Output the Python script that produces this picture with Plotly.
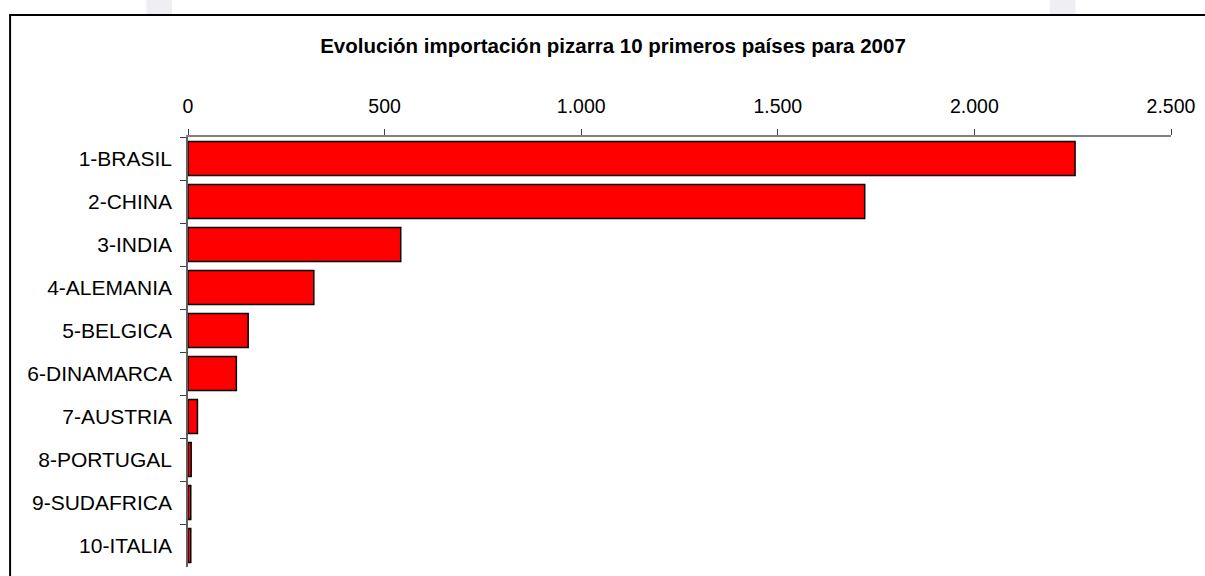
import plotly.graph_objects as go

categories = ["1-BRASIL", "2-CHINA", "3-INDIA", "4-ALEMANIA", "5-BELGICA",
              "6-DINAMARCA", "7-AUSTRIA", "8-PORTUGAL", "9-SUDAFRICA", "10-ITALIA"]
values = [2256, 1721, 541, 320, 153, 123, 24, 8, 7, 7]
tick_vals = [0, 500, 1000, 1500, 2000, 2500]
tick_text = ["0", "500", "1.000", "1.500", "2.000", "2.500"]
title_text = "Evolución importación pizarra 10 primeros países para 2007"

W, H = 1205, 576
L, R, T, B = 188, 28, 137, 9
pw, ph = W - L - R, H - T - B

def px_x(x):
    return (x - L) / pw

def px_y(y):
    return (H - B - y) / ph

fig = go.Figure(go.Bar(
    x=values, y=categories, orientation="h",
    marker=dict(color="#FF0000", line=dict(color="#000000", width=1.5)),
    hoverinfo="x+y",
))

fig.update_layout(
    width=W, height=H,
    margin=dict(l=L, r=R, t=T, b=B, pad=0),
    paper_bgcolor="white", plot_bgcolor="white",
    font=dict(family="Liberation Sans, Arial, sans-serif", color="#000000"),
    bargap=0.21,
    showlegend=False,
    title=dict(text="<b>" + title_text + "</b>", x=613 / W, xref="container",
               y=1 - 46 / H, yref="container", xanchor="center", yanchor="middle",
               font=dict(size=20.5, family="Liberation Sans, Arial, sans-serif", color="#000000")),
    xaxis=dict(side="top", range=[0, 2500], tickvals=tick_vals, ticktext=tick_text,
               showgrid=False, zeroline=False, showline=True, linecolor="#808080", linewidth=1.5,
               ticks="outside", ticklen=6, tickwidth=1.2, tickcolor="#404040",
               tickfont=dict(size=19.5), ticklabelstandoff=8, fixedrange=True),
    yaxis=dict(categoryorder="array", categoryarray=categories, autorange="reversed",
               showgrid=False, zeroline=False, showline=True, linecolor="#606060", linewidth=1.5,
               ticks="outside", ticklen=6, tickwidth=1.2, tickcolor="#404040",
               tickson="boundaries", tickfont=dict(size=21), ticklabelstandoff=10,
               fixedrange=True),
    shapes=[
        dict(type="rect", xref="paper", yref="paper",
             x0=px_x(9), x1=px_x(1215), y0=px_y(15), y1=px_y(590),
             line=dict(color="#000000", width=2), fillcolor="rgba(0,0,0,0)", layer="above"),
        dict(type="rect", xref="paper", yref="paper",
             x0=px_x(146), x1=px_x(172), y0=px_y(0), y1=px_y(14),
             line=dict(width=0), fillcolor="#EFEEF3", layer="below"),
        dict(type="rect", xref="paper", yref="paper",
             x0=px_x(1055), x1=px_x(1081), y0=px_y(0), y1=px_y(14),
             line=dict(width=0), fillcolor="#EFEEF3", layer="below"),
    ],
)

fig.write_html("out.html", config={"displayModeBar": False})
